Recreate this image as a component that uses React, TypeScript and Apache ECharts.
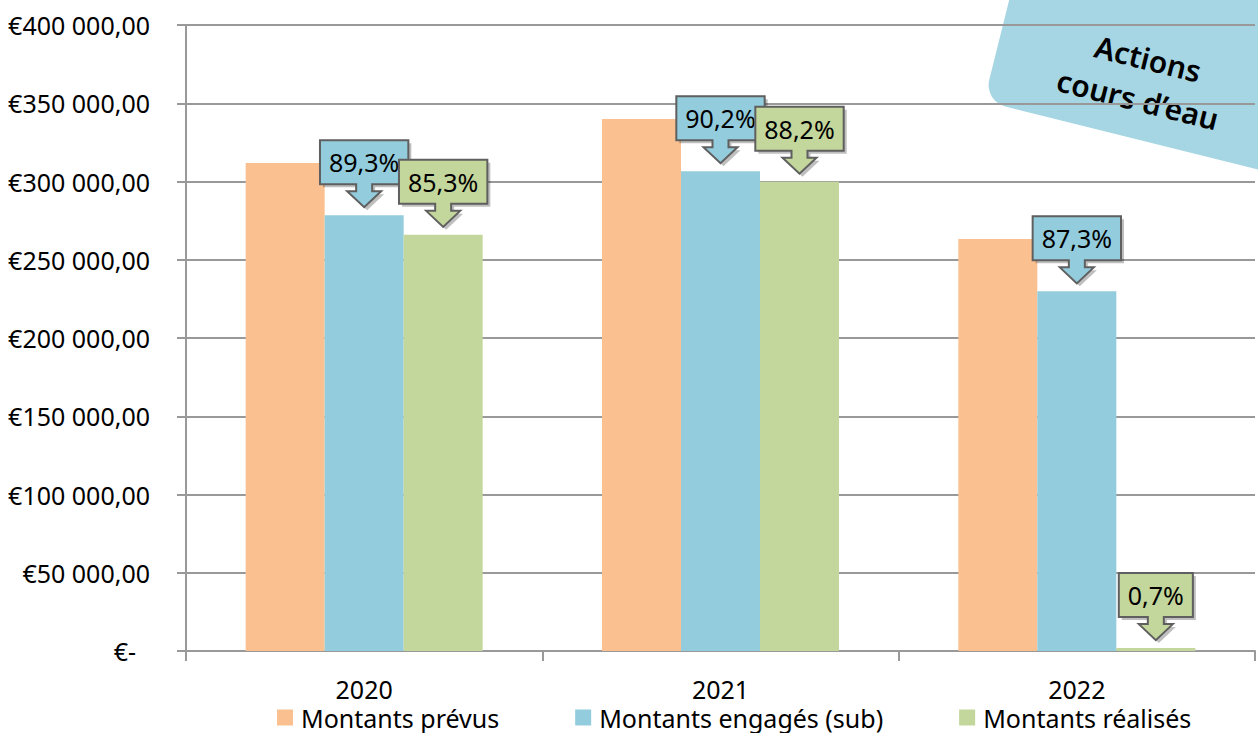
import React, { useEffect, useRef } from "react";
import * as echarts from "echarts";

const categories = ["2020", "2021", "2022"];
const seriesNames = ["Montants prévus", "Montants engagés (sub)", "Montants réalisés"];
const prevus = [311800, 340000, 263300];
const engages = [278500, 306600, 229800];
const realises = [265900, 299900, 1850];
const engagePct = ["89,3%", "90,2%", "87,3%"];
const realisePct = ["85,3%", "88,2%", "0,7%"];
const yTicks = [0, 50000, 100000, 150000, 200000, 250000, 300000, 350000, 400000];

const COLORS = ["#FAC090", "#93CDDD", "#C3D69B"];
const BAR_W = 79;
const FONT = '"Noto Sans", "Open Sans", sans-serif';

function fmtEuro(v: number): string {
  if (v === 0) return "{z|€-}";
  const s = String(Math.round(v)).replace(/\B(?=(\d{3})+(?!\d))/g, " ");
  return "€" + s + ",00";
}

let measureCtx: CanvasRenderingContext2D | null = null;
function textWidth(t: string, font: string): number {
  if (!measureCtx) measureCtx = document.createElement("canvas").getContext("2d");
  if (!measureCtx) return t.length * 14;
  measureCtx.font = font;
  return measureCtx.measureText(t).width;
}

export default function App() {
  const ref = useRef<HTMLDivElement>(null);
  useEffect(() => {
    document.body.style.margin = "0";
    if (!ref.current) return;
    const chart = echarts.init(ref.current, null, { renderer: "svg" });
    const callouts: any[] = [];
    categories.forEach((_, i) => {
      callouts.push({ value: [i, engages[i], 1], label: engagePct[i], color: COLORS[1] });
      callouts.push({ value: [i, realises[i], 2], label: realisePct[i], color: COLORS[2] });
    });
    const labelFont = `25px ${FONT}`;
    const option: any = {
      animation: false,
      grid: { left: 186, right: 3, top: 25, bottom: 82 },
      legend: {
        data: seriesNames,
        left: 277,
        top: 705,
        padding: 0,
        itemWidth: 16,
        itemHeight: 16,
        itemGap: 76,
        icon: "rect",
        textStyle: { fontSize: 25, lineHeight: 16, color: "#000", fontFamily: FONT, padding: [0, 0, 0, 3] },
      },
      xAxis: {
        type: "category",
        data: categories,
        axisLine: { lineStyle: { color: "#999", width: 2 } },
        axisTick: { show: true, length: 10, lineStyle: { color: "#999", width: 2 } },
        axisLabel: { fontSize: 25, lineHeight: 18, color: "#000", fontFamily: FONT, margin: 29 },
      },
      yAxis: {
        type: "value",
        min: 0,
        max: 400000,
        interval: 50000,
        axisLine: { show: true, lineStyle: { color: "#999", width: 2 } },
        axisTick: { show: true, length: 9, lineStyle: { color: "#999", width: 2 } },
        splitLine: { lineStyle: { color: "#999", width: 2 } },
        axisLabel: {
          fontSize: 25,
          color: "#000",
          fontFamily: FONT,
          margin: 36,
          formatter: (v: number) => (yTicks.includes(v) ? fmtEuro(v) : ""),
          rich: { z: { fontSize: 25, color: "#000", fontFamily: FONT, padding: [0, 14, 0, 0] } },
        },
      },
      series: [
        { name: seriesNames[0], type: "bar", data: prevus, barWidth: BAR_W, barGap: "0%", itemStyle: { color: COLORS[0] } },
        { name: seriesNames[1], type: "bar", data: engages, barWidth: BAR_W, barGap: "0%", itemStyle: { color: COLORS[1] } },
        { name: seriesNames[2], type: "bar", data: realises, barWidth: BAR_W, barGap: "0%", itemStyle: { color: COLORS[2] } },
        {
          type: "custom",
          z: 10,
          data: callouts,
          renderItem: (params: any, api: any) => {
            const d = callouts[params.dataIndex];
            const p = api.coord([api.value(0), api.value(1)]);
            const cx = p[0] + (api.value(2) - 1) * BAR_W;
            const tip = p[1] - 8;
            const w = textWidth(d.label, labelFont) + 18;
            const bottom = tip - 23;
            const top = bottom - 44;
            const pts = [
              [cx - w / 2, top], [cx + w / 2, top], [cx + w / 2, bottom],
              [cx + 8, bottom], [cx + 8, bottom + 7], [cx + 17, bottom + 7],
              [cx, tip], [cx - 17, bottom + 7], [cx - 8, bottom + 7],
              [cx - 8, bottom], [cx - w / 2, bottom],
            ];
            return {
              type: "group",
              children: [
                {
                  type: "polygon",
                  shape: { points: pts.map((q) => [q[0] + 3, q[1] + 3]) },
                  style: { fill: "rgba(0,0,0,0.25)" },
                },
                {
                  type: "polygon",
                  shape: { points: pts },
                  style: { fill: d.color, stroke: "#5f5f5f", lineWidth: 2 },
                },
                {
                  type: "text",
                  x: cx,
                  y: top + 22,
                  style: { text: d.label, fill: "#000", font: labelFont, align: "center", verticalAlign: "middle" },
                },
              ],
            };
          },
        },
      ],
      graphic: [
        {
          type: "group",
          x: 1143,
          y: 79,
          rotation: (-14 * Math.PI) / 180,
          z: 100,
          children: [
            {
              type: "rect",
              shape: { x: -149, y: -190, width: 440, height: 250, r: 22 },
              style: { fill: "rgba(136,200,218,0.75)" },
            },
            {
              type: "text",
              x: 0,
              y: -21,
              style: { text: "Actions", fill: "#000", font: `600 30px ${FONT}`, align: "center", verticalAlign: "middle" },
            },
            {
              type: "text",
              x: 0,
              y: 21,
              style: { text: "cours d’eau", fill: "#000", font: `600 30px ${FONT}`, align: "center", verticalAlign: "middle" },
            },
          ],
        },
      ],
    };
    chart.setOption(option);
    return () => chart.dispose();
  }, []);
  return <div ref={ref} style={{ width: 1258, height: 733 }} />;
}
